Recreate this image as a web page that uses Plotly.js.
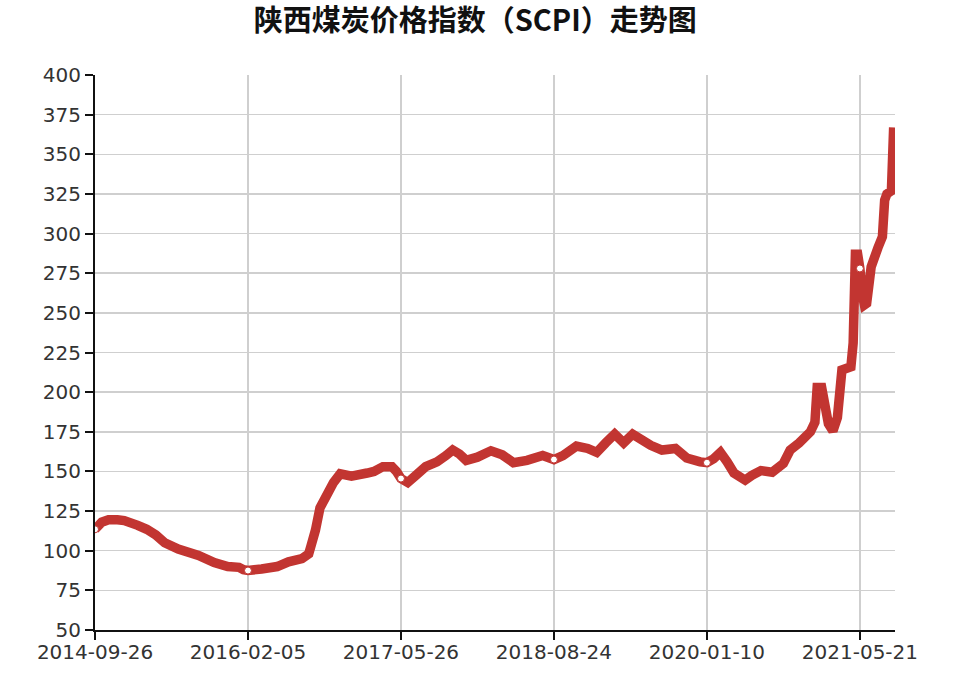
<!DOCTYPE html>
<html>
<head>
<meta charset="utf-8">
<script src="https://cdn.plot.ly/plotly-3.0.1.min.js"></script>
<style>html,body{margin:0;padding:0;background:#fff;}#chart{width:960px;height:686px;}</style>
</head>
<body>
<div id="chart"></div>
<script>
// Week index along the category axis (one step per published week)
const weekIndex = [0,3,6,10,13,19,23,27,31,37,46,53,59,64,66,68,74,81,86,92,95,96,98,100,103,106,109,114,121,124,128,132,134,136,139,143,147,152,156,159,162,165,170,176,181,186,192,199,204,208,214,219,223,227,231,235,239,247,252,258,263,269,272,275,278,281,284,289,292,296,301,306,309,313,318,320,321,323,326,328,330,332,336,337,338,339,340,341,342,343,345,348,350,351,352,354,355];
// SCPI values
const scpi = [113.5,118,119.5,119.5,119,116,113.5,110,105,101,97,92.5,90,89.5,88,87.5,88.5,90,93,95,98,103,113,127,135,143,148.5,147,149,150,153,153,150,145.5,143,148,153,156,160,163.5,161,157,159,163,160.5,155.5,157,160,157.5,160,166,164.5,162,168,173.5,168,173.5,166.5,163.5,164.5,158.5,156,155.5,158,162,156,149,144.5,147.5,150.5,149.5,155,163.5,168,175,181,203,203,180,175.5,184,214,216,231,287,287,278,262,255,256,279,291,298,321,325,327,367];
// Axis labels (every 68 weeks)
const tickIndex = [0,68,136,204,272,340];
const tickLabels = ['2014-09-26','2016-02-05','2017-05-26','2018-08-24','2020-01-10','2021-05-21'];

const red = '#c23531';
const markY = tickIndex.map(t => scpi[weekIndex.indexOf(t)]);

const traces = [
  {x: weekIndex, y: scpi, type: 'scatter', mode: 'lines',
   line: {color: red, width: 9.5, simplify: false}, hoverinfo: 'x+y'},
  {x: tickIndex, y: markY, type: 'scatter', mode: 'markers',
   marker: {color: '#ffffff', size: 7, line: {color: red, width: 1}}, hoverinfo: 'skip'}
];

const tickFont = {family: 'DejaVu Sans, sans-serif', size: 20, color: '#333'};
const layout = {
  width: 960, height: 686,
  margin: {l: 95, r: 65, t: 75, b: 56},
  paper_bgcolor: '#fff', plot_bgcolor: '#fff',
  showlegend: false,
  title: {text: '<b>陕西煤炭价格指数（SCPI）走势图</b>', x: 0.495, xanchor: 'center',
          y: 0.97, yref: 'container', yanchor: 'middle',
          font: {family: 'Noto Sans CJK SC, sans-serif', size: 29, color: '#111'}},
  xaxis: {type: 'linear', range: [0, 355.6], tickmode: 'array', tickvals: tickIndex, ticktext: tickLabels,
          showgrid: true, gridcolor: '#cfcfcf', gridwidth: 1.5, zeroline: false,
          showline: true, linecolor: '#111', linewidth: 2,
          ticks: 'outside', ticklen: 8, tickwidth: 2, tickcolor: '#111',
          ticklabelstandoff: -5,
          tickfont: tickFont, fixedrange: true},
  yaxis: {range: [50, 400], dtick: 25, tick0: 50,
          showgrid: true, gridcolor: '#cfcfcf', gridwidth: 1.5, zeroline: false,
          showline: true, linecolor: '#111', linewidth: 2,
          ticks: 'outside', ticklen: 8, tickwidth: 2, tickcolor: '#111',
          tickfont: tickFont, fixedrange: true}
};

Plotly.newPlot('chart', traces, layout, {displayModeBar: false, staticPlot: true});
</script>
</body>
</html>
